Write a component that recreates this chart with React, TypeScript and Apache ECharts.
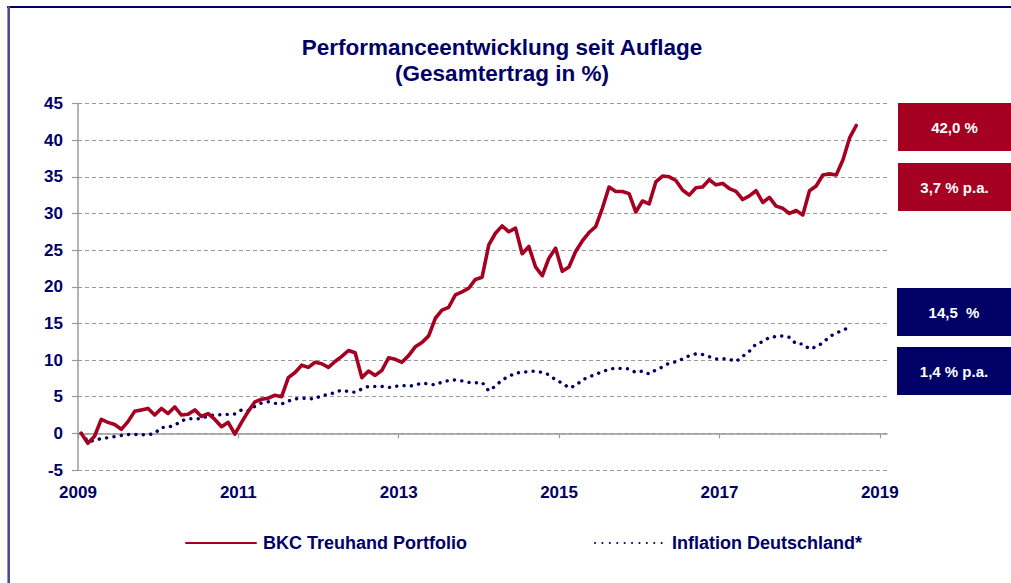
import React, { useEffect, useRef } from "react";
import * as echarts from "echarts";

// ---- data ----
const START_YEAR = 2009.04; // first monthly observation (Jan 2009)
const portfolio = [
  0, -1.35, -0.4, 1.9, 1.5, 1.2, 0.55, 1.6, 3.0, 3.2, 3.4, 2.5,
  3.4, 2.7, 3.6, 2.5, 2.6, 3.2, 2.3, 2.7, 1.9, 0.9, 1.5, -0.1,
  1.5, 3.0, 4.3, 4.65, 4.8, 5.2, 5.0, 7.6, 8.3, 9.3, 9.0, 9.7,
  9.5, 9.0, 9.8, 10.5, 11.3, 11.0, 7.6, 8.5, 7.9, 8.6, 10.3, 10.1,
  9.7, 10.6, 11.8, 12.4, 13.3, 15.7, 16.8, 17.2, 18.9, 19.3, 19.8, 21.0,
  21.3, 25.7, 27.3, 28.3, 27.5, 28.0, 24.5, 25.5, 22.7, 21.5, 23.9, 25.25,
  22.1, 22.7, 24.8, 26.25, 27.4, 28.2, 30.7, 33.6, 33.0, 33.0, 32.7, 30.2,
  31.7, 31.3, 34.3, 35.1, 35.0, 34.5, 33.2, 32.5, 33.5, 33.6, 34.6, 33.9,
  34.1, 33.4, 33.0, 31.9, 32.4, 33.1, 31.5, 32.2, 31.0, 30.7, 30.0, 30.4,
  29.8, 33.1, 33.75, 35.25, 35.4, 35.25, 37.3, 40.3, 42.0,
];
const inflation = [
  0, -1.1, -1.0, -0.7, -0.6, -0.45, -0.3, -0.15, -0.15, -0.2, -0.2, 0,
  0.8, 0.85, 1.1, 1.7, 2.0, 2.0, 2.0, 2.4, 2.5, 2.55, 2.6, 2.65,
  3.2, 3.1, 3.7, 4.15, 4.3, 4.1, 4.0, 4.4, 4.7, 4.8, 4.75, 4.7,
  5.2, 5.25, 5.6, 5.9, 5.7, 5.6, 6.05, 6.4, 6.4, 6.4, 6.25, 6.4,
  6.55, 6.4, 6.6, 6.85, 6.75, 6.6, 7.0, 7.2, 7.3, 7.15, 6.95, 6.9,
  6.95, 5.8, 6.45, 7.3, 7.75, 8.25, 8.3, 8.45, 8.5, 8.3, 8.0, 7.3,
  6.85, 6.2, 6.5, 7.3, 7.7, 8.05, 8.4, 8.75, 8.9, 8.85, 8.8, 8.3,
  8.5, 8.1, 8.65, 9.05, 9.6, 9.75, 10.15, 10.6, 10.85, 10.75, 10.45, 10.15,
  10.2, 10.1, 9.8, 10.5, 11.2, 12.2, 12.5, 13.1, 13.2, 13.3, 13.1, 12.2,
  12.2, 11.5, 11.8, 12.35, 13.2, 13.7, 14.05, 14.5,
];
const yearTicks = [2009, 2011, 2013, 2015, 2017, 2019];
const seriesNames = ["BKC Treuhand Portfolio", "Inflation Deutschland*"];
const portfolioBoxes = ["42,0 %", "3,7 % p.a."];
const inflationBoxes = ["14,5  %", "1,4 % p.a."];
const titleLines = ["Performanceentwicklung seit Auflage", "(Gesamtertrag in %)"];

const RED = "#A50021";
const NAVY = "#000066";
const GRAY = "#9a9a9a";
const FONT = "'Liberation Sans', Arial, Helvetica, sans-serif";

const toPairs = (arr: number[]) => arr.map((v, i) => [START_YEAR + i / 12, v]);

export default function App() {
  const ref = useRef<HTMLDivElement>(null);
  useEffect(() => {
    if (!ref.current) return;
    const chart = echarts.init(ref.current, undefined, { renderer: "svg" });
    const box = (y: number, color: string, text: string, x: number) => ({
      type: "group",
      children: [
        { type: "rect", shape: { x, y, width: 1011 - x, height: 48 }, style: { fill: color } },
        {
          type: "text",
          x: (x + 1011) / 2,
          y: y + 24,
          style: {
            text,
            fill: "#fff",
            font: `bold 15px ${FONT}`,
            align: "center",
            verticalAlign: "middle",
          },
        },
      ],
    });
    chart.setOption({
      animation: false,
      backgroundColor: "#fff",
      title: {
        text: titleLines.join("\n"),
        left: 497,
        top: 29,
        textAlign: "center",
        textStyle: { color: NAVY, fontFamily: FONT, fontWeight: "bold", fontSize: 22.5, lineHeight: 26 },
      },
      grid: { left: 78, right: 124, top: 103.5, bottom: 113, containLabel: false },
      legend: {
        left: 180,
        top: 529,
        itemWidth: 70,
        itemHeight: 14,
        itemGap: 127,
        itemStyle: { opacity: 0, color: "transparent", borderWidth: 0 },
        textStyle: { color: NAVY, fontFamily: FONT, fontWeight: "bold", fontSize: 18, padding: [0, 0, 0, 2] },
        data: seriesNames,
      },
      xAxis: [
        {
          type: "value",
          min: 2009,
          max: 2019.09,
          position: "bottom",
          axisLine: { show: false, onZero: false },
          axisTick: { show: false },
          splitLine: { show: false },
          axisLabel: {
            customValues: yearTicks,
            color: NAVY,
            fontFamily: FONT,
            fontWeight: "bold",
            fontSize: 17,
            margin: 14,
            formatter: (v: number) => String(Math.round(v)),
          },
        },
        {
          type: "value",
          min: 2009,
          max: 2019.09,
          position: "bottom",
          axisLine: { show: true, onZero: true, onZeroAxisIndex: 0, lineStyle: { color: GRAY, width: 1.5 } },
          axisTick: { show: true, customValues: yearTicks, length: 5, lineStyle: { color: GRAY, width: 1.2 } },
          axisLabel: { show: false },
          splitLine: { show: false },
        },
      ],
      yAxis: {
        type: "value",
        min: -5,
        max: 45,
        interval: 5,
        axisLine: { show: true, lineStyle: { color: GRAY, width: 1.5 } },
        axisTick: { show: true, length: 6, lineStyle: { color: GRAY, width: 1.2 } },
        axisLabel: { color: NAVY, fontFamily: FONT, fontWeight: "bold", fontSize: 17, margin: 15 },
        splitLine: { show: true, lineStyle: { color: GRAY, type: [4, 3], width: 1.2 } },
      },
      series: [
        {
          name: seriesNames[0],
          type: "line",
          xAxisIndex: 0,
          data: toPairs(portfolio),
          showSymbol: false,
          symbol: "none",
          z: 3,
          lineStyle: { color: RED, width: 3.6, join: "round", cap: "round" },
          itemStyle: { color: RED },
        },
        {
          name: seriesNames[1],
          type: "line",
          xAxisIndex: 0,
          data: toPairs(inflation),
          showSymbol: false,
          symbol: "none",
          z: 2,
          lineStyle: { color: NAVY, width: 3.4, type: [0.1, 7.3], cap: "round", join: "round" },
          itemStyle: { color: NAVY },
        },
      ],
      graphic: [
        { type: "line", shape: { x1: 7, y1: 7, x2: 1011, y2: 7 }, style: { stroke: NAVY, lineWidth: 2 } },
        { type: "line", shape: { x1: 8.7, y1: 6, x2: 8.7, y2: 583 }, style: { stroke: "#4a4a98", lineWidth: 2.6 } },
        box(103, RED, portfolioBoxes[0], 898),
        box(163, RED, portfolioBoxes[1], 898),
        box(288, NAVY, inflationBoxes[0], 897),
        box(347, NAVY, inflationBoxes[1], 897),
      ],
    });
    return () => chart.dispose();
  }, []);
  return (
    <div
      ref={ref}
      style={{ position: "fixed", left: 0, top: 0, width: 1011, height: 583, background: "#fff" }}
    />
  );
}
